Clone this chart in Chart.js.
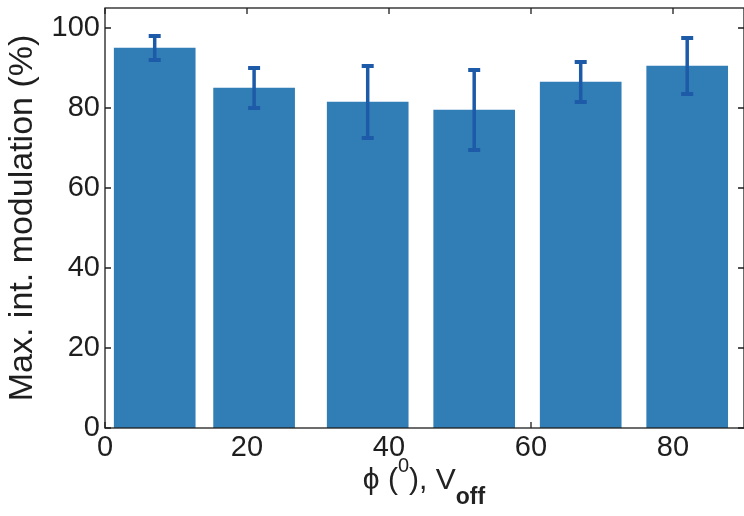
<!DOCTYPE html>
<html>
<head>
<meta charset="utf-8">
<script src="https://cdn.jsdelivr.net/npm/chart.js@4.4.1/dist/chart.umd.min.js"></script>
<style>
  html, body { margin: 0; padding: 0; background: #fff; }
  #wrap { position: relative; width: 744px; height: 516px; }
  #xtitle {
    position: absolute; left: 0; width: 848px; top: 460px; text-align: center;
    font-family: "Liberation Sans", Arial, sans-serif; font-size: 30px; color: #222;
  }
  #xtitle sup { font-size: 20px; position: relative; top: -6px; }
  #xtitle sub { font-size: 23px; font-weight: bold; position: relative; top: 8px; }
</style>
</head>
<body>
<div id="wrap">
  <canvas id="modChart" width="744" height="516"></canvas>
  <div id="xtitle">ϕ (<sup>0</sup>), V<sub>off</sub></div>
</div>
<script>
// phase offset (deg) of each bar, mean modulation and its +/- spread
const phiCenters = [7, 21, 37, 52, 67, 82];
const modulation = [95, 85, 81.5, 79.5, 86.5, 90.5];
const modErr = [3, 5, 9, 10, 5, 7];

const xTicks = [0, 20, 40, 60, 80];
const yTicks = [0, 20, 40, 60, 80, 100];

const FONT = '"Liberation Sans", Arial, sans-serif';
const INK = '#1e1e1e';

// box around the plot with inward ticks on all four sides
const boxAxes = {
  id: 'boxAxes',
  beforeDatasetsDraw(chart) {
    const { ctx, chartArea: a, scales } = chart;
    ctx.save();
    ctx.strokeStyle = INK;
    ctx.lineWidth = 1.3;
    ctx.beginPath();
    xTicks.forEach(v => {
      const px = scales.x.getPixelForValue(v);
      ctx.moveTo(px, a.bottom); ctx.lineTo(px, a.bottom - 6);
      ctx.moveTo(px, a.top); ctx.lineTo(px, a.top + 6);
    });
    yTicks.forEach(v => {
      const py = scales.y.getPixelForValue(v);
      ctx.moveTo(a.left, py); ctx.lineTo(a.left + 6, py);
      ctx.moveTo(a.right, py); ctx.lineTo(a.right - 6, py);
    });
    ctx.stroke();
    ctx.restore();
  },
  afterDatasetsDraw(chart) {
    const { ctx, chartArea: a } = chart;
    ctx.save();
    ctx.strokeStyle = INK;
    ctx.lineWidth = 1.3;
    ctx.strokeRect(a.left, a.top, a.right - a.left, a.bottom - a.top);
    ctx.restore();
  }
};

// vertical error bars with flat caps
const errorBars = {
  id: 'errorBars',
  afterDatasetsDraw(chart) {
    const { ctx, scales } = chart;
    ctx.save();
    ctx.strokeStyle = '#1d5aa8';
    ctx.lineCap = 'butt';
    phiCenters.forEach((x, i) => {
      const px = scales.x.getPixelForValue(x);
      const top = scales.y.getPixelForValue(modulation[i] + modErr[i]);
      const bot = scales.y.getPixelForValue(modulation[i] - modErr[i]);
      ctx.lineWidth = 3.5;
      ctx.beginPath();
      ctx.moveTo(px, top); ctx.lineTo(px, bot);
      ctx.stroke();
      ctx.lineWidth = 4;
      ctx.beginPath();
      ctx.moveTo(px - 6, top); ctx.lineTo(px + 6, top);
      ctx.moveTo(px - 6, bot); ctx.lineTo(px + 6, bot);
      ctx.stroke();
    });
    ctx.restore();
  }
};

new Chart(document.getElementById('modChart').getContext('2d'), {
  type: 'bar',
  data: {
    datasets: [{
      data: phiCenters.map((x, i) => ({ x: x, y: modulation[i] })),
      backgroundColor: '#317db6',
      borderWidth: 0,
      barThickness: 81
    }]
  },
  options: {
    responsive: false,
    animation: false,
    devicePixelRatio: 1,
    layout: { padding: { top: 8, right: 0, left: 0, bottom: 0 } },
    plugins: { legend: { display: false }, tooltip: { enabled: false } },
    scales: {
      x: {
        type: 'linear',
        min: 0, max: 90,
        offset: false,
        grid: { display: false, offset: false, drawTicks: false },
        border: { display: false },
        afterFit(scale) {
          scale.height = 88;
          scale.paddingLeft = 0;
          scale.paddingRight = 0;
        },
        ticks: {
          stepSize: 20, includeBounds: false, maxRotation: 0,
          padding: 3, color: INK, font: { family: FONT, size: 29 }
        }
      },
      y: {
        min: 0, max: 105,
        grid: { display: false, drawTicks: false },
        border: { display: false },
        afterFit(scale) {
          scale.width = 105;
          scale.paddingTop = 0;
          scale.paddingBottom = 0;
        },
        ticks: {
          stepSize: 20, includeBounds: false,
          padding: 5, color: INK, font: { family: FONT, size: 29 }
        },
        title: {
          display: true,
          text: 'Max. int. modulation (%)',
          color: INK,
          padding: { top: 2, bottom: 0 },
          font: { family: FONT, size: 34 }
        }
      }
    }
  },
  plugins: [boxAxes, errorBars]
});
</script>
</body>
</html>
